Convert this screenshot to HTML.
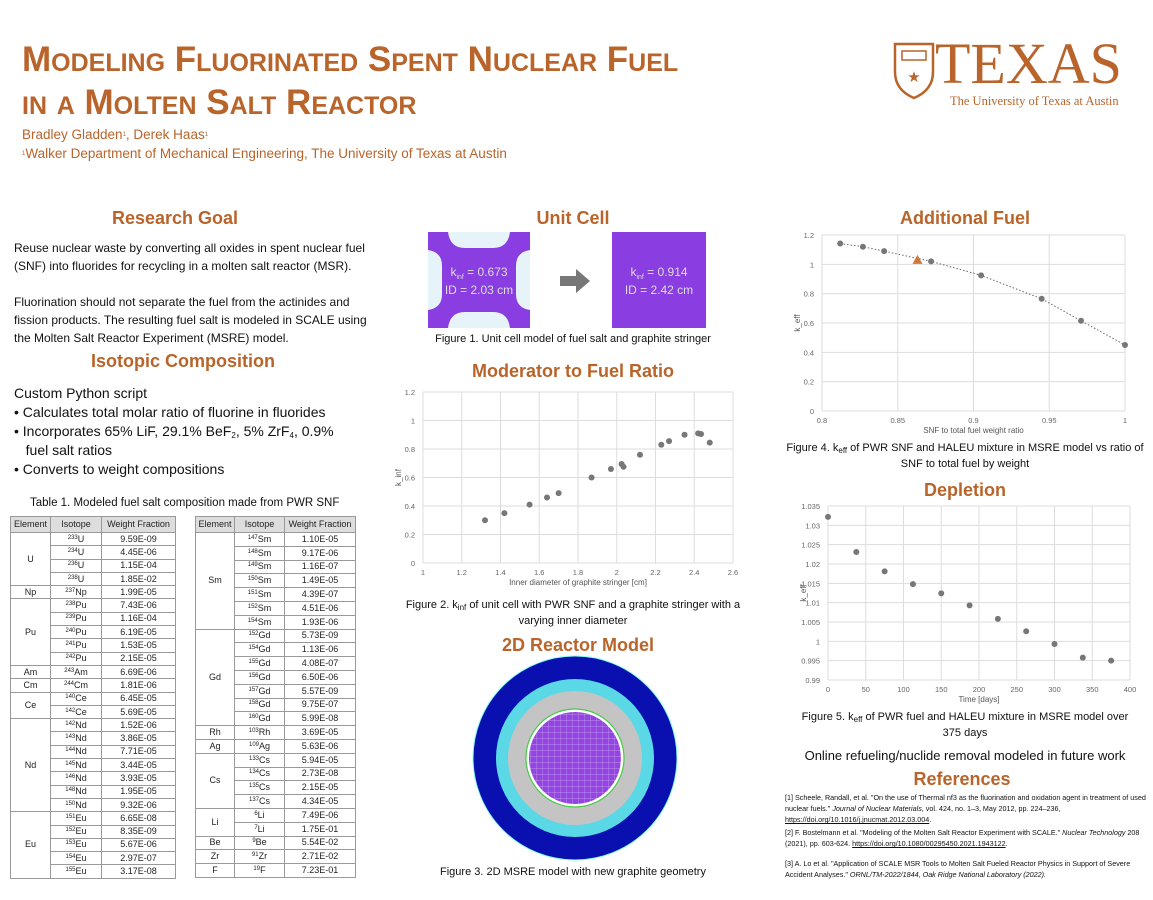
<!DOCTYPE html>
<html><head><meta charset="utf-8">
<style>
body{margin:0;background:#fff;}
#poster{position:relative;width:1153px;height:900px;overflow:hidden;font-family:"Liberation Sans",sans-serif;color:#111;}
.a{position:absolute;white-space:nowrap;}
.h{position:absolute;font-weight:bold;color:#b8642a;font-size:18px;transform:translateX(-50%);white-space:nowrap;}
.cap{position:absolute;font-size:11px;transform:translateX(-50%);white-space:nowrap;text-align:center;}
.t{font-size:12px;line-height:18px;}
table{position:absolute;border-collapse:collapse;font-size:9px;color:#222;table-layout:fixed;}
td,th{border:1px solid #999;padding:0;text-align:center;line-height:9px;}
th{background:#ddd;font-weight:normal;}
#tl tr{height:13.3px;} #tr tr{height:13.8px;}
#tl tr:first-child,#tr tr:first-child{height:16px;}
sup{font-size:6px;line-height:0;vertical-align:3px;}
.sb{font-size:8px;line-height:0;vertical-align:-2px;}
.ref{position:absolute;font-size:7.2px;line-height:11px;width:370px;white-space:normal;}
</style></head>
<body>
<div id="poster">
<div class="a" style="left:22px;top:38px;font-size:35px;font-weight:bold;color:#b8642a;font-variant:small-caps;line-height:43px;">Modeling Fluorinated Spent Nuclear Fuel<br>in a Molten Salt Reactor</div>
<div class="a" style="left:22px;top:125px;font-size:13.5px;color:#b8642a;line-height:19px;">Bradley Gladden<sup>1</sup>, Derek Haas<sup>1</sup><br><sup>1</sup>Walker Department of Mechanical Engineering, The University of Texas at Austin</div>
<div style="position:absolute;left:893px;top:42px;">
<svg width="42" height="58"><path d="M2,2 H40 V30 Q40,48 21,56 Q2,48 2,30 Z" fill="none" stroke="#b8642a" stroke-width="2.5"/><rect x="9" y="9" width="24" height="9" fill="none" stroke="#b8642a" stroke-width="1.5"/><text x="21" y="40" font-size="15" fill="#b8642a" text-anchor="middle">★</text></svg>
<div class="a" style="left:42px;top:-12px;font-family:'Liberation Serif',serif;font-size:58px;color:#b8642a;letter-spacing:0px;">TEXAS</div>
<div class="a" style="left:57px;top:52px;font-family:'Liberation Serif',serif;font-size:12.5px;color:#b8642a;">The University of Texas at Austin</div>
</div>

<div class="h" style="left:175px;top:208px;">Research Goal</div>
<div class="a t" style="left:14px;top:239px;">Reuse nuclear waste by converting all oxides in spent nuclear fuel<br>(SNF) into fluorides for recycling in a molten salt reactor (MSR).<br><br>Fluorination should not separate the fuel from the actinides and<br>fission products. The resulting fuel salt is modeled in SCALE using<br>the Molten Salt Reactor Experiment (MSRE) model.</div>
<div class="h" style="left:183px;top:351px;">Isotopic Composition</div>
<div class="a" style="left:14px;top:384px;font-size:14px;line-height:19px;">Custom Python script<br>• Calculates total molar ratio of fluorine in fluorides<br>• Incorporates 65% LiF, 29.1% BeF<span class="sb">2</span>, 5% ZrF<span class="sb">4</span>, 0.9%<br>&nbsp;&nbsp;&nbsp;fuel salt ratios<br>• Converts to weight compositions</div>
<div class="a" style="left:30px;top:497px;font-size:11.5px;">Table 1. Modeled fuel salt composition made from PWR SNF</div>

<table id="tl" style="left:10px;top:516px;width:166px;">
<colgroup><col style="width:40px"><col style="width:51px"><col></colgroup>
<tr><th>Element</th><th>Isotope</th><th>Weight Fraction</th></tr>
<tr><td rowspan="4">U</td><td><sup>233</sup>U</td><td>9.59E-09</td></tr><tr><td><sup>234</sup>U</td><td>4.45E-06</td></tr><tr><td><sup>236</sup>U</td><td>1.15E-04</td></tr><tr><td><sup>238</sup>U</td><td>1.85E-02</td></tr>
<tr><td>Np</td><td><sup>237</sup>Np</td><td>1.99E-05</td></tr>
<tr><td rowspan="5">Pu</td><td><sup>238</sup>Pu</td><td>7.43E-06</td></tr><tr><td><sup>239</sup>Pu</td><td>1.16E-04</td></tr><tr><td><sup>240</sup>Pu</td><td>6.19E-05</td></tr><tr><td><sup>241</sup>Pu</td><td>1.53E-05</td></tr><tr><td><sup>242</sup>Pu</td><td>2.15E-05</td></tr>
<tr><td>Am</td><td><sup>243</sup>Am</td><td>6.69E-06</td></tr>
<tr><td>Cm</td><td><sup>244</sup>Cm</td><td>1.81E-06</td></tr>
<tr><td rowspan="2">Ce</td><td><sup>140</sup>Ce</td><td>6.45E-05</td></tr><tr><td><sup>142</sup>Ce</td><td>5.69E-05</td></tr>
<tr><td rowspan="7">Nd</td><td><sup>142</sup>Nd</td><td>1.52E-06</td></tr><tr><td><sup>143</sup>Nd</td><td>3.86E-05</td></tr><tr><td><sup>144</sup>Nd</td><td>7.71E-05</td></tr><tr><td><sup>145</sup>Nd</td><td>3.44E-05</td></tr><tr><td><sup>146</sup>Nd</td><td>3.93E-05</td></tr><tr><td><sup>148</sup>Nd</td><td>1.95E-05</td></tr><tr><td><sup>150</sup>Nd</td><td>9.32E-06</td></tr>
<tr><td rowspan="5">Eu</td><td><sup>151</sup>Eu</td><td>6.65E-08</td></tr><tr><td><sup>152</sup>Eu</td><td>8.35E-09</td></tr><tr><td><sup>153</sup>Eu</td><td>5.67E-06</td></tr><tr><td><sup>154</sup>Eu</td><td>2.97E-07</td></tr><tr><td><sup>155</sup>Eu</td><td>3.17E-08</td></tr>
</table>
<table id="tr" style="left:195px;top:516px;width:161px;">
<colgroup><col style="width:39px"><col style="width:50px"><col></colgroup>
<tr><th>Element</th><th>Isotope</th><th>Weight Fraction</th></tr>
<tr><td rowspan="7">Sm</td><td><sup>147</sup>Sm</td><td>1.10E-05</td></tr><tr><td><sup>148</sup>Sm</td><td>9.17E-06</td></tr><tr><td><sup>149</sup>Sm</td><td>1.16E-07</td></tr><tr><td><sup>150</sup>Sm</td><td>1.49E-05</td></tr><tr><td><sup>151</sup>Sm</td><td>4.39E-07</td></tr><tr><td><sup>152</sup>Sm</td><td>4.51E-06</td></tr><tr><td><sup>154</sup>Sm</td><td>1.93E-06</td></tr>
<tr><td rowspan="7">Gd</td><td><sup>152</sup>Gd</td><td>5.73E-09</td></tr><tr><td><sup>154</sup>Gd</td><td>1.13E-06</td></tr><tr><td><sup>155</sup>Gd</td><td>4.08E-07</td></tr><tr><td><sup>156</sup>Gd</td><td>6.50E-06</td></tr><tr><td><sup>157</sup>Gd</td><td>5.57E-09</td></tr><tr><td><sup>158</sup>Gd</td><td>9.75E-07</td></tr><tr><td><sup>160</sup>Gd</td><td>5.99E-08</td></tr>
<tr><td>Rh</td><td><sup>103</sup>Rh</td><td>3.69E-05</td></tr>
<tr><td>Ag</td><td><sup>109</sup>Ag</td><td>5.63E-06</td></tr>
<tr><td rowspan="4">Cs</td><td><sup>133</sup>Cs</td><td>5.94E-05</td></tr><tr><td><sup>134</sup>Cs</td><td>2.73E-08</td></tr><tr><td><sup>135</sup>Cs</td><td>2.15E-05</td></tr><tr><td><sup>137</sup>Cs</td><td>4.34E-05</td></tr>
<tr><td rowspan="2">Li</td><td><sup>6</sup>Li</td><td>7.49E-06</td></tr><tr><td><sup>7</sup>Li</td><td>1.75E-01</td></tr>
<tr><td>Be</td><td><sup>9</sup>Be</td><td>5.54E-02</td></tr>
<tr><td>Zr</td><td><sup>91</sup>Zr</td><td>2.71E-02</td></tr>
<tr><td>F</td><td><sup>19</sup>F</td><td>7.23E-01</td></tr>
</table>

<div class="h" style="left:573px;top:208px;">Unit Cell</div>
<svg class="a" style="left:420px;top:228px;" width="300" height="104">
<rect x="8" y="4" width="102" height="96" fill="#8a3de0"/>
<path d="M28,4 Q30,20 45,20 H73 Q88,20 90,4 Z" fill="#e6f4fa"/><path d="M28,100 Q30,84 45,84 H73 Q88,84 90,100 Z" fill="#e6f4fa"/>
<path d="M8,22 Q22,24 22,38 V66 Q22,80 8,82 Z" fill="#e6f4fa"/><path d="M110,22 Q96,24 96,38 V66 Q96,80 110,82 Z" fill="#e6f4fa"/>
<text x="59" y="48" fill="#ddd" font-size="12" text-anchor="middle">k<tspan font-size="7" dy="3">inf</tspan><tspan dy="-3"> = 0.673</tspan></text>
<text x="59" y="66" fill="#ddd" font-size="12" text-anchor="middle">ID = 2.03 cm</text>
<path d="M140,48 H156 V41 L170,53 L156,65 V58 H140 Z" fill="#777"/>
<rect x="192" y="4" width="94" height="96" fill="#8a3de0"/>
<text x="239" y="48" fill="#ddd" font-size="12" text-anchor="middle">k<tspan font-size="7" dy="3">inf</tspan><tspan dy="-3"> = 0.914</tspan></text>
<text x="239" y="66" fill="#ddd" font-size="12" text-anchor="middle">ID = 2.42 cm</text>
</svg>
<div class="cap" style="left:573px;top:333px;">Figure 1. Unit cell model of fuel salt and graphite stringer</div>
<div class="h" style="left:573px;top:361px;">Moderator to Fuel Ratio</div>
<svg class="a" id="chartMod" style="left:380px;top:380px;" width="370" height="212"></svg>
<div class="cap" style="left:573px;top:597px;line-height:16px;">Figure 2. k<span class="sb">inf</span> of unit cell with PWR SNF and a graphite stringer with a<br>varying inner diameter</div>
<div class="h" style="left:578px;top:635px;">2D Reactor Model</div>
<svg class="a" style="left:470px;top:654px;" width="210" height="210">
<defs><pattern id="grid" width="6" height="6" patternUnits="userSpaceOnUse"><rect width="6" height="6" fill="#9444e0"/><path d="M0,0H6M0,0V6" stroke="#c8a8f0" stroke-width="0.7"/></pattern></defs>
<circle cx="105" cy="104" r="102" fill="#0a10b0" stroke="#8fe" stroke-width="1"/>
<circle cx="105" cy="104" r="79" fill="#5ad8e6"/>
<circle cx="105" cy="104" r="67" fill="#c4c4c4"/>
<circle cx="105" cy="104" r="49" fill="#fff" stroke="#4c4" stroke-width="1.2"/>
<circle cx="105" cy="104" r="46" fill="url(#grid)"/>
</svg>
<div class="cap" style="left:573px;top:866px;">Figure 3. 2D MSRE model with new graphite geometry</div>

<div class="h" style="left:965px;top:208px;">Additional Fuel</div>
<svg class="a" id="chartAdd" style="left:780px;top:225px;" width="370" height="210"></svg>
<div class="cap" style="left:965px;top:440px;line-height:16px;">Figure 4. k<span class="sb">eff</span> of PWR SNF and HALEU mixture in MSRE model vs ratio of<br>SNF to total fuel by weight</div>
<div class="h" style="left:965px;top:480px;">Depletion</div>
<svg class="a" id="chartDep" style="left:780px;top:500px;" width="370" height="205"></svg>
<div class="cap" style="left:965px;top:709px;line-height:16px;">Figure 5. k<span class="sb">eff</span> of PWR fuel and HALEU mixture in MSRE model over<br>375 days</div>
<div class="cap" style="left:965px;top:748px;font-size:13px;">Online refueling/nuclide removal modeled in future work</div>
<div class="h" style="left:962px;top:769px;">References</div>
<div class="ref" style="left:785px;top:792px;">[1] Scheele, Randall, et al. "On the use of Thermal nf3 as the fluorination and oxidation agent in treatment of used nuclear fuels." <i>Journal of Nuclear Materials</i>, vol. 424, no. 1–3, May 2012, pp. 224–236, <u>https://doi.org/10.1016/j.jnucmat.2012.03.004</u>.</div>
<div class="ref" style="left:785px;top:827px;">[2] F. Bostelmann et al. "Modeling of the Molten Salt Reactor Experiment with SCALE." <i>Nuclear Technology</i> 208 (2021), pp. 603-624. <u>https://doi.org/10.1080/00295450.2021.1943122</u>.</div>
<div class="ref" style="left:785px;top:858px;">[3] A. Lo et al. "Application of SCALE MSR Tools to Molten Salt Fueled Reactor Physics in Support of Severe Accident Analyses." <i>ORNL/TM-2022/1844, Oak Ridge National Laboratory (2022).</i></div>
</div>

<script>
// Moderator chart data
const modX = [1.32,1.42,1.55,1.64,1.70,1.87,1.97,2.025,2.035,2.12,2.23,2.27,2.35,2.42,2.435,2.48];
const modY = [0.30,0.35,0.41,0.46,0.49,0.60,0.66,0.695,0.675,0.76,0.83,0.855,0.90,0.91,0.905,0.845];
const modXTicks = [1,1.2,1.4,1.6,1.8,2,2.2,2.4,2.6];
const modYTicks = [0,0.2,0.4,0.6,0.8,1,1.2];
// Additional fuel data
const addX = [0.812,0.827,0.841,0.872,0.905,0.945,0.971,1.0];
const addY = [1.142,1.12,1.09,1.02,0.925,0.765,0.615,0.45];
const haleuX = [0.863];
const haleuY = [1.03];
const addXTicks = [0.8,0.85,0.9,0.95,1];
const addYTicks = [0,0.2,0.4,0.6,0.8,1,1.2];
// Depletion data
const depX = [0,37.5,75,112.5,150,187.5,225,262.5,300,337.5,375];
const depY = [1.0322,1.0231,1.0181,1.0148,1.0124,1.0093,1.0058,1.0026,0.9993,0.9958,0.9950];
const depXTicks = [0,50,100,150,200,250,300,350,400];
const depYTicks = [0.99,0.995,1,1.005,1.01,1.015,1.02,1.025,1.03,1.035];

const NS='http://www.w3.org/2000/svg';
function mk(svg,tag,attrs,txt){const e=document.createElementNS(NS,tag);for(const k in attrs)e.setAttribute(k,attrs[k]);if(txt!==undefined)e.textContent=txt;svg.appendChild(e);return e;}
function chart(id,o){
  const svg=document.getElementById(id);
  const sx=v=>o.x0+(v-o.xmin)/(o.xmax-o.xmin)*(o.x1-o.x0);
  const sy=v=>o.y0-(v-o.ymin)/(o.ymax-o.ymin)*(o.y0-o.y1);
  o.xt.forEach(t=>{
    const l=mk(svg,'line',{x1:sx(t),x2:sx(t),y1:o.y1,y2:o.y0,stroke:'#ddd'});
    
    
    const tx=mk(svg,'text',{x:sx(t),y:o.y0+12,'font-size':7.5,fill:'#666','text-anchor':'middle'},String(t));
    
    
  });
  o.yt.forEach(t=>{
    const l=mk(svg,'line',{x1:o.x0,x2:o.x1,y1:sy(t),y2:sy(t),stroke:'#ddd'});
    
    
    const tx=mk(svg,'text',{x:o.x0-8,y:sy(t)+3,'font-size':7.5,fill:'#666','text-anchor':'end'},String(t));
    
    
  });
  const xl=mk(svg,'text',{x:(o.x0+o.x1)/2,y:o.y0+22,'font-size':8,fill:'#555','text-anchor':'middle'},o.xlabel);
  
  
  const yl=mk(svg,'text',{x:0,y:0,'font-size':8,fill:'#555','text-anchor':'middle',transform:`translate(${o.x0-22},${(o.y0+o.y1)/2}) rotate(-90)`},o.ylabel);
  
  
  if(o.trend){
    const p=mk(svg,'polyline',{points:o.xs.map((v,i)=>sx(v)+','+sy(o.ys[i])).join(' '),fill:'none',stroke:'#666','stroke-dasharray':'1.5,2','stroke-width':1});
    
    
  }
  o.xs.forEach((v,i)=>{
    const c=mk(svg,'circle',{cx:sx(v),cy:sy(o.ys[i]),r:3,fill:'#777'});
    
    
  });
  return {sx,sy,svg};
}
chart('chartMod',{x0:43,x1:353,y0:183,y1:12,xmin:1,xmax:2.6,ymin:0,ymax:1.2,xt:modXTicks,yt:modYTicks,xs:modX,ys:modY,xlabel:'Inner diameter of graphite stringer [cm]',ylabel:'k_inf'});
const ca=chart('chartAdd',{x0:42,x1:345,y0:186,y1:10,xmin:0.8,xmax:1,ymin:0,ymax:1.2,xt:addXTicks,yt:addYTicks,xs:addX,ys:addY,xlabel:'SNF to total fuel weight ratio',ylabel:'k_eff',trend:true});
haleuX.forEach((v,i)=>{
  const x=ca.sx(v),y=ca.sy(haleuY[i]);
  const t=mk(ca.svg,'polygon',{points:`${x},${y-5} ${x-5},${y+4} ${x+5},${y+4}`,fill:'#d0783a'});
  
  
});
chart('chartDep',{x0:48,x1:350,y0:180,y1:6,xmin:0,xmax:400,ymin:0.99,ymax:1.035,xt:depXTicks,yt:depYTicks,xs:depX,ys:depY,xlabel:'Time [days]',ylabel:'k_eff'});
</script>
</body></html>
